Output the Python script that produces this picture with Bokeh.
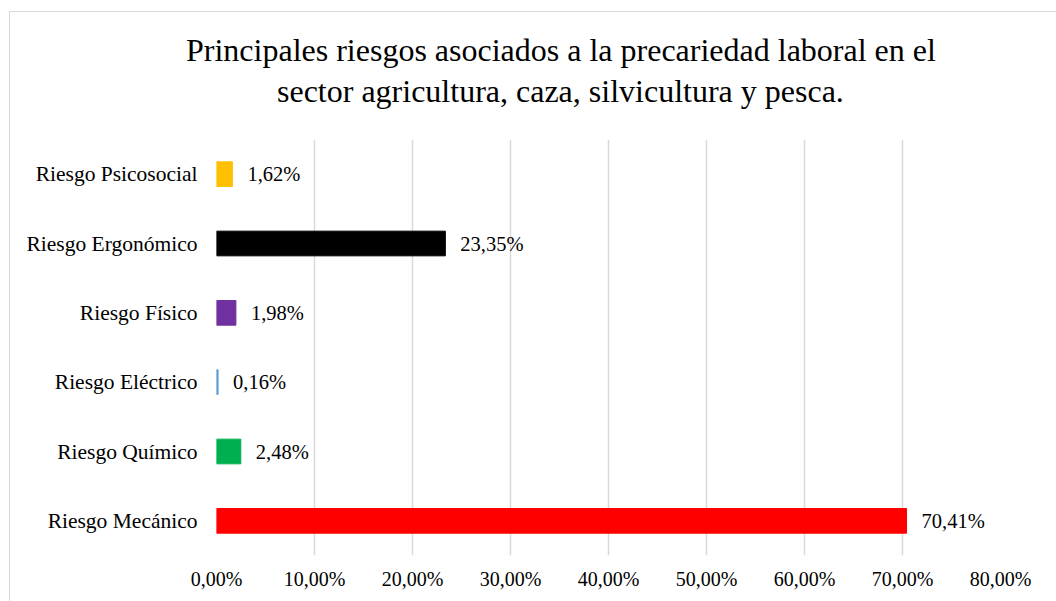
from bokeh.plotting import figure
from bokeh.models import ColumnDataSource, Range1d, FixedTicker, Title, InlineStyleSheet
from bokeh.core.properties import value
from bokeh.embed import file_html
from bokeh.resources import INLINE

categories = ["Riesgo Mecánico", "Riesgo Químico", "Riesgo Eléctrico",
              "Riesgo Físico", "Riesgo Ergonómico", "Riesgo Psicosocial"]
values = [70.41, 2.48, 0.16, 1.98, 23.35, 1.62]
colors = ["#FF0000", "#00B050", "#5B9BD5", "#7030A0", "#000000", "#FFC000"]
tick_values = [0, 10, 20, 30, 40, 50, 60, 70, 80]
tick_labels = ["0,00%", "10,00%", "20,00%", "30,00%", "40,00%",
               "50,00%", "60,00%", "70,00%", "80,00%"]
title_lines = ["Principales riesgos asociados a la precariedad laboral en el",
               "sector agricultura, caza, silvicultura y pesca."]

labels = [("%.2f" % v).replace(".", ",") + "%" for v in values]
source = ColumnDataSource(dict(cat=categories, val=values, color=colors, lab=labels))

FONT = "Liberation Serif"

p = figure(width=1056, height=601, y_range=categories, x_range=Range1d(0, 80),
           output_backend="svg", toolbar_location=None,
           min_border_left=216, min_border_right=56, min_border_top=139,
           min_border_bottom=46)

p.hbar(y="cat", right="val", left=0, height=0.356, color="color", source=source)
p.text(x="val", y="cat", text="lab", source=source, x_offset=15,
       text_baseline="middle", text_align="left", text_font=value(FONT),
       text_font_size="20.5px", text_color="#000000")

p.outline_line_color = None
p.background_fill_color = "white"
p.border_fill_color = "white"

p.xgrid.grid_line_color = "#d9d9d9"
p.xgrid.grid_line_width = 1.5
p.ygrid.grid_line_color = None

p.xaxis.ticker = FixedTicker(ticks=tick_values)
p.xaxis.major_label_overrides = {t: l for t, l in zip(tick_values, tick_labels)}

for ax in (p.xaxis[0], p.yaxis[0]):
    ax.axis_line_color = None
    ax.major_tick_line_color = None
    ax.minor_tick_line_color = None
    ax.major_label_text_font = FONT
    ax.major_label_text_color = "#000000"
p.xaxis.major_label_text_font_size = "20px"
p.yaxis.major_label_text_font_size = "21.5px"
p.xaxis.major_label_standoff = 6
p.yaxis.major_label_standoff = 13

t2 = Title(text=title_lines[1], align="left", offset=60.5, text_font=FONT,
           text_font_size="32px", text_font_style="normal", text_color="#000000",
           standoff=61)
t1 = Title(text=title_lines[0], align="left", offset=-30.5, text_font=FONT,
           text_font_size="32px", text_font_style="normal", text_color="#000000",
           standoff=-55)
p.add_layout(t2, "above")
p.add_layout(t1, "above")

p.stylesheets = [InlineStyleSheet(css=""":host { position: relative; }
:host::after { content: ""; position: absolute; left: 9px; top: 11px; right: 0; bottom: 0;
border-left: 1px solid #d9d9d9; border-top: 1px solid #d9d9d9; pointer-events: none; z-index: 10; }""")]

open("out.html", "w").write(file_html(p, INLINE))
